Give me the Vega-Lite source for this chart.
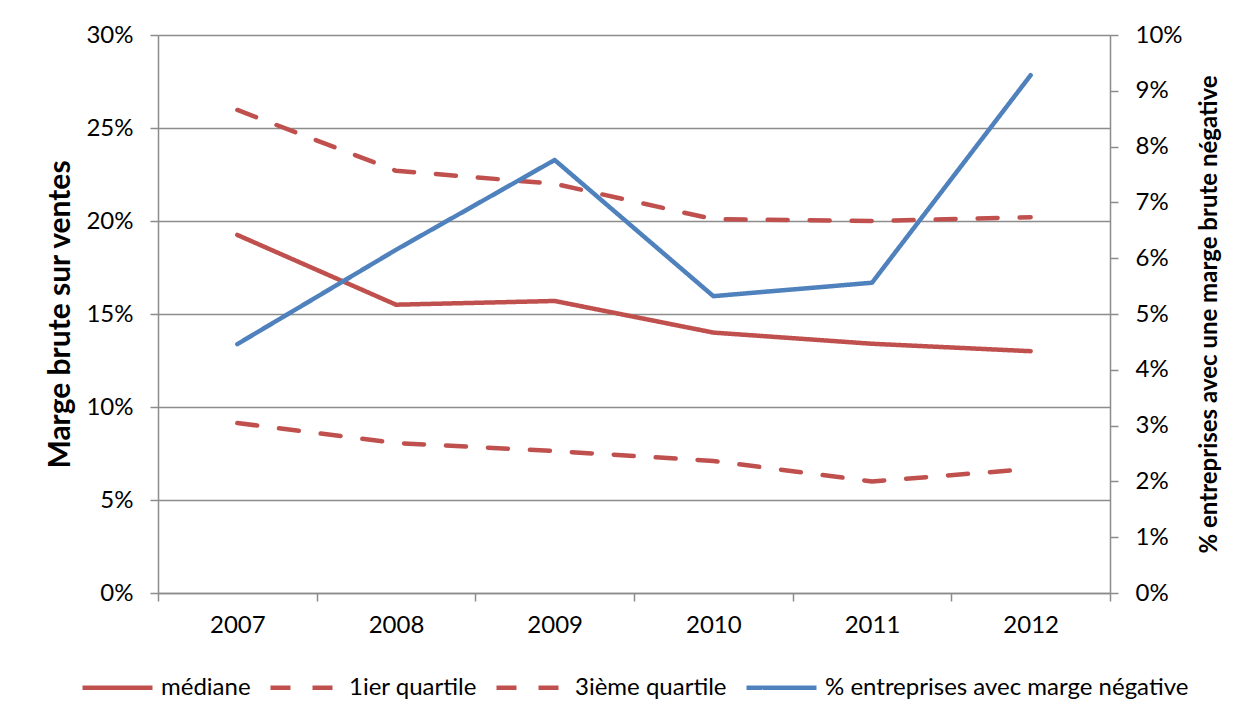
{
  "$schema": "https://vega.github.io/schema/vega-lite/v6.json",
  "width": 952,
  "height": 558,
  "autosize": {"type": "none"},
  "padding": {"left": 158, "top": 35, "right": 143, "bottom": 129},
  "background": "white",
  "config": {
    "font": "Lato",
    "view": {"stroke": null},
    "axis": {
      "labelFont": "Lato",
      "labelFontSize": 24,
      "labelColor": "#000000",
      "titleFont": "Lato",
      "titleColor": "#000000",
      "titleFontWeight": "bold",
      "domainColor": "#8c8c8c",
      "domainWidth": 1.5,
      "tickColor": "#8c8c8c",
      "tickWidth": 1.5,
      "tickSize": 8,
      "gridColor": "#8c8c8c",
      "gridWidth": 1.5
    }
  },
  "data": {
    "values": [
      {"annee": "2007", "serie": "médiane", "valeur": 0.1925},
      {"annee": "2008", "serie": "médiane", "valeur": 0.155},
      {"annee": "2009", "serie": "médiane", "valeur": 0.157},
      {"annee": "2010", "serie": "médiane", "valeur": 0.14},
      {"annee": "2011", "serie": "médiane", "valeur": 0.134},
      {"annee": "2012", "serie": "médiane", "valeur": 0.130},
      {"annee": "2007", "serie": "1ier quartile", "valeur": 0.0914},
      {"annee": "2008", "serie": "1ier quartile", "valeur": 0.0806},
      {"annee": "2009", "serie": "1ier quartile", "valeur": 0.0763},
      {"annee": "2010", "serie": "1ier quartile", "valeur": 0.071},
      {"annee": "2011", "serie": "1ier quartile", "valeur": 0.060},
      {"annee": "2012", "serie": "1ier quartile", "valeur": 0.0667},
      {"annee": "2007", "serie": "3ième quartile", "valeur": 0.2597},
      {"annee": "2008", "serie": "3ième quartile", "valeur": 0.227},
      {"annee": "2009", "serie": "3ième quartile", "valeur": 0.220},
      {"annee": "2010", "serie": "3ième quartile", "valeur": 0.201},
      {"annee": "2011", "serie": "3ième quartile", "valeur": 0.200},
      {"annee": "2012", "serie": "3ième quartile", "valeur": 0.202},
      {"annee": "2007", "serie": "% entreprises avec marge négative", "valeur": 0.0446},
      {"annee": "2008", "serie": "% entreprises avec marge négative", "valeur": 0.0615},
      {"annee": "2009", "serie": "% entreprises avec marge négative", "valeur": 0.0776},
      {"annee": "2010", "serie": "% entreprises avec marge négative", "valeur": 0.0532},
      {"annee": "2011", "serie": "% entreprises avec marge négative", "valeur": 0.0556},
      {"annee": "2012", "serie": "% entreprises avec marge négative", "valeur": 0.0928}
    ]
  },
  "encoding": {
    "x": {
      "field": "annee",
      "type": "ordinal",
      "scale": {"type": "band", "paddingInner": 0, "paddingOuter": 0},
      "axis": {
        "title": null,
        "labelAngle": 0,
        "tickBand": "extent",
        "labelPadding": 12
      }
    },
    "color": {
      "field": "serie",
      "type": "nominal",
      "scale": {
        "domain": ["médiane", "1ier quartile", "3ième quartile", "% entreprises avec marge négative"],
        "range": ["#C0504D", "#C0504D", "#C0504D", "#4F81BD"]
      },
      "legend": {
        "title": null,
        "orient": "none",
        "direction": "horizontal",
        "legendX": -78,
        "legendY": 615,
        "symbolType": "stroke",
        "symbolSize": 4900,
        "symbolStrokeWidth": 4.5,
        "labelFont": "Lato",
        "labelFontSize": 24,
        "labelColor": "#000000",
        "labelOffset": 6,
        "columnPadding": 10,
        "labelLimit": 500
      }
    },
    "strokeDash": {
      "field": "serie",
      "type": "nominal",
      "scale": {
        "domain": ["médiane", "1ier quartile", "3ième quartile", "% entreprises avec marge négative"],
        "range": [[1, 0], [20, 22], [20, 22], [1, 0]]
      },
      "legend": null
    }
  },
  "layer": [
    {
      "transform": [{"filter": "datum.serie !== '% entreprises avec marge négative'"}],
      "mark": {"type": "line", "strokeWidth": 4.5, "strokeCap": "round", "strokeJoin": "round"},
      "encoding": {
        "y": {
          "field": "valeur",
          "type": "quantitative",
          "scale": {"domain": [0, 0.3], "nice": false},
          "axis": {
            "title": "Marge brute sur ventes",
            "titleFontSize": 30,
            "titlePadding": 10,
            "format": ".0%",
            "values": [0, 0.05, 0.1, 0.15, 0.2, 0.25, 0.3],
            "labelPadding": 17,
            "grid": true
          }
        }
      }
    },
    {
      "transform": [{"filter": "datum.serie === '% entreprises avec marge négative'"}],
      "mark": {"type": "line", "strokeWidth": 4.5, "strokeCap": "round", "strokeJoin": "round"},
      "encoding": {
        "y": {
          "field": "valeur",
          "type": "quantitative",
          "scale": {"domain": [0, 0.1], "nice": false},
          "axis": {
            "orient": "right",
            "title": "% entreprises avec une marge brute négative",
            "titleFontSize": 24,
            "titleAngle": 270,
            "titlePadding": 39,
            "format": ".0%",
            "values": [0, 0.01, 0.02, 0.03, 0.04, 0.05, 0.06, 0.07, 0.08, 0.09, 0.1],
            "labelPadding": 17,
            "grid": false
          }
        }
      }
    }
  ],
  "resolve": {"scale": {"y": "independent"}}
}
